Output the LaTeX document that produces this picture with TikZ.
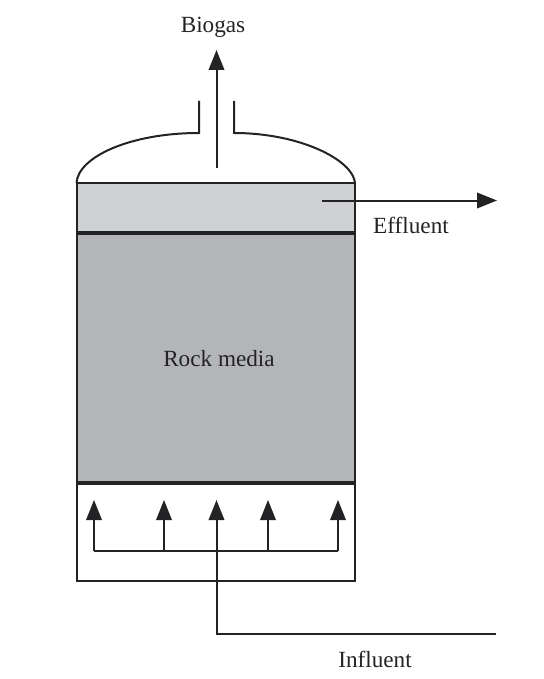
\documentclass[tikz,border=0pt]{standalone}
\usepackage{fontspec}
\setmainfont{Liberation Serif}
\usetikzlibrary{arrows.meta}
\definecolor{ink}{HTML}{232325}
\definecolor{settle}{HTML}{CFD1D4}
\definecolor{media}{HTML}{B3B5B8}
\tikzset{
  x=1pt,y=-1pt,
  wall/.style={draw=ink,line width=2pt},
  plate/.style={draw=ink,line width=4pt},
  flow/.style={draw=ink,line width=2pt,-{Triangle[length=20pt,width=15.5pt]}},
  plain/.style={draw=ink,line width=2pt},
  lbl/.style={text=ink,font=\fontsize{23.2}{25}\selectfont,inner sep=0pt}
}
\begin{document}
\begin{tikzpicture}
\useasboundingbox (0,0) rectangle (543,679);
\fill[settle] (77,183) rectangle (354.5,232);
\fill[media] (77,232) rectangle (354.5,483);
% named points
\coordinate (tl) at (77,183);
\coordinate (tr) at (354.5,183);
\coordinate (bl) at (77,581);
\coordinate (br) at (354.5,581);
\coordinate (nl) at (199,133);
\coordinate (nlt) at (199,101);
\coordinate (nr) at (234,133);
\coordinate (nrt) at (234,101);
\coordinate (gasS) at (216.5,168);
\coordinate (gasE) at (216.5,50);
\coordinate (effS) at (322,200.5);
\coordinate (effE) at (497,200.5);
\coordinate (inlet) at (496,634);
\coordinate (corner) at (216.5,634);
\coordinate (hL) at (94,550.5);
\coordinate (hA) at (164,550.5);
\coordinate (hC) at (216.5,550.5);
\coordinate (hD) at (268,550.5);
\coordinate (hR) at (338,550.5);
\coordinate (tA) at (94,500);
\coordinate (tB) at (164,500);
\coordinate (tC) at (216.5,500);
\coordinate (tD) at (268,500);
\coordinate (tE) at (338,500);
% vessel
\draw[wall,line join=miter] (tl) -- (bl) -- (br) -- (tr);
\draw[draw=ink,line width=1.2pt] (tl) -- (tr);
\draw[wall] (199,183) -- (233,183);
\draw[plate] (77,232.5) -- (354.5,232.5);
\draw[plate] (77,483) -- (354.5,483);
% dome
\draw[wall,line join=miter] (76.5,183) .. controls (78,157) and (130,133) .. (nl) -- (nlt);
\draw[wall,line join=miter] (355,183) .. controls (353,160) and (300,133) .. (nr) -- (nrt);
% flows
\draw[flow] (gasS) -- (gasE);
\draw[flow] (effS) -- (effE);
\draw[plain,line join=miter] (inlet) -- (corner) -- (hC);
\draw[flow] (hC) -- (tC);
\draw[plain] (hL) -- (hR);
\draw[flow] (hL) -- (tA);
\draw[flow] (hA) -- (tB);
\draw[flow] (hD) -- (tD);
\draw[flow] (hR) -- (tE);
% labels
\node[lbl] (biogas) at (213,27) {Biogas};
\node[lbl] (effluent) at (411,225) {Effluent};
\node[lbl] (rock) at (219,359) {Rock media};
\node[lbl] (influent) at (375,659) {Influent};
\end{tikzpicture}
\end{document}
